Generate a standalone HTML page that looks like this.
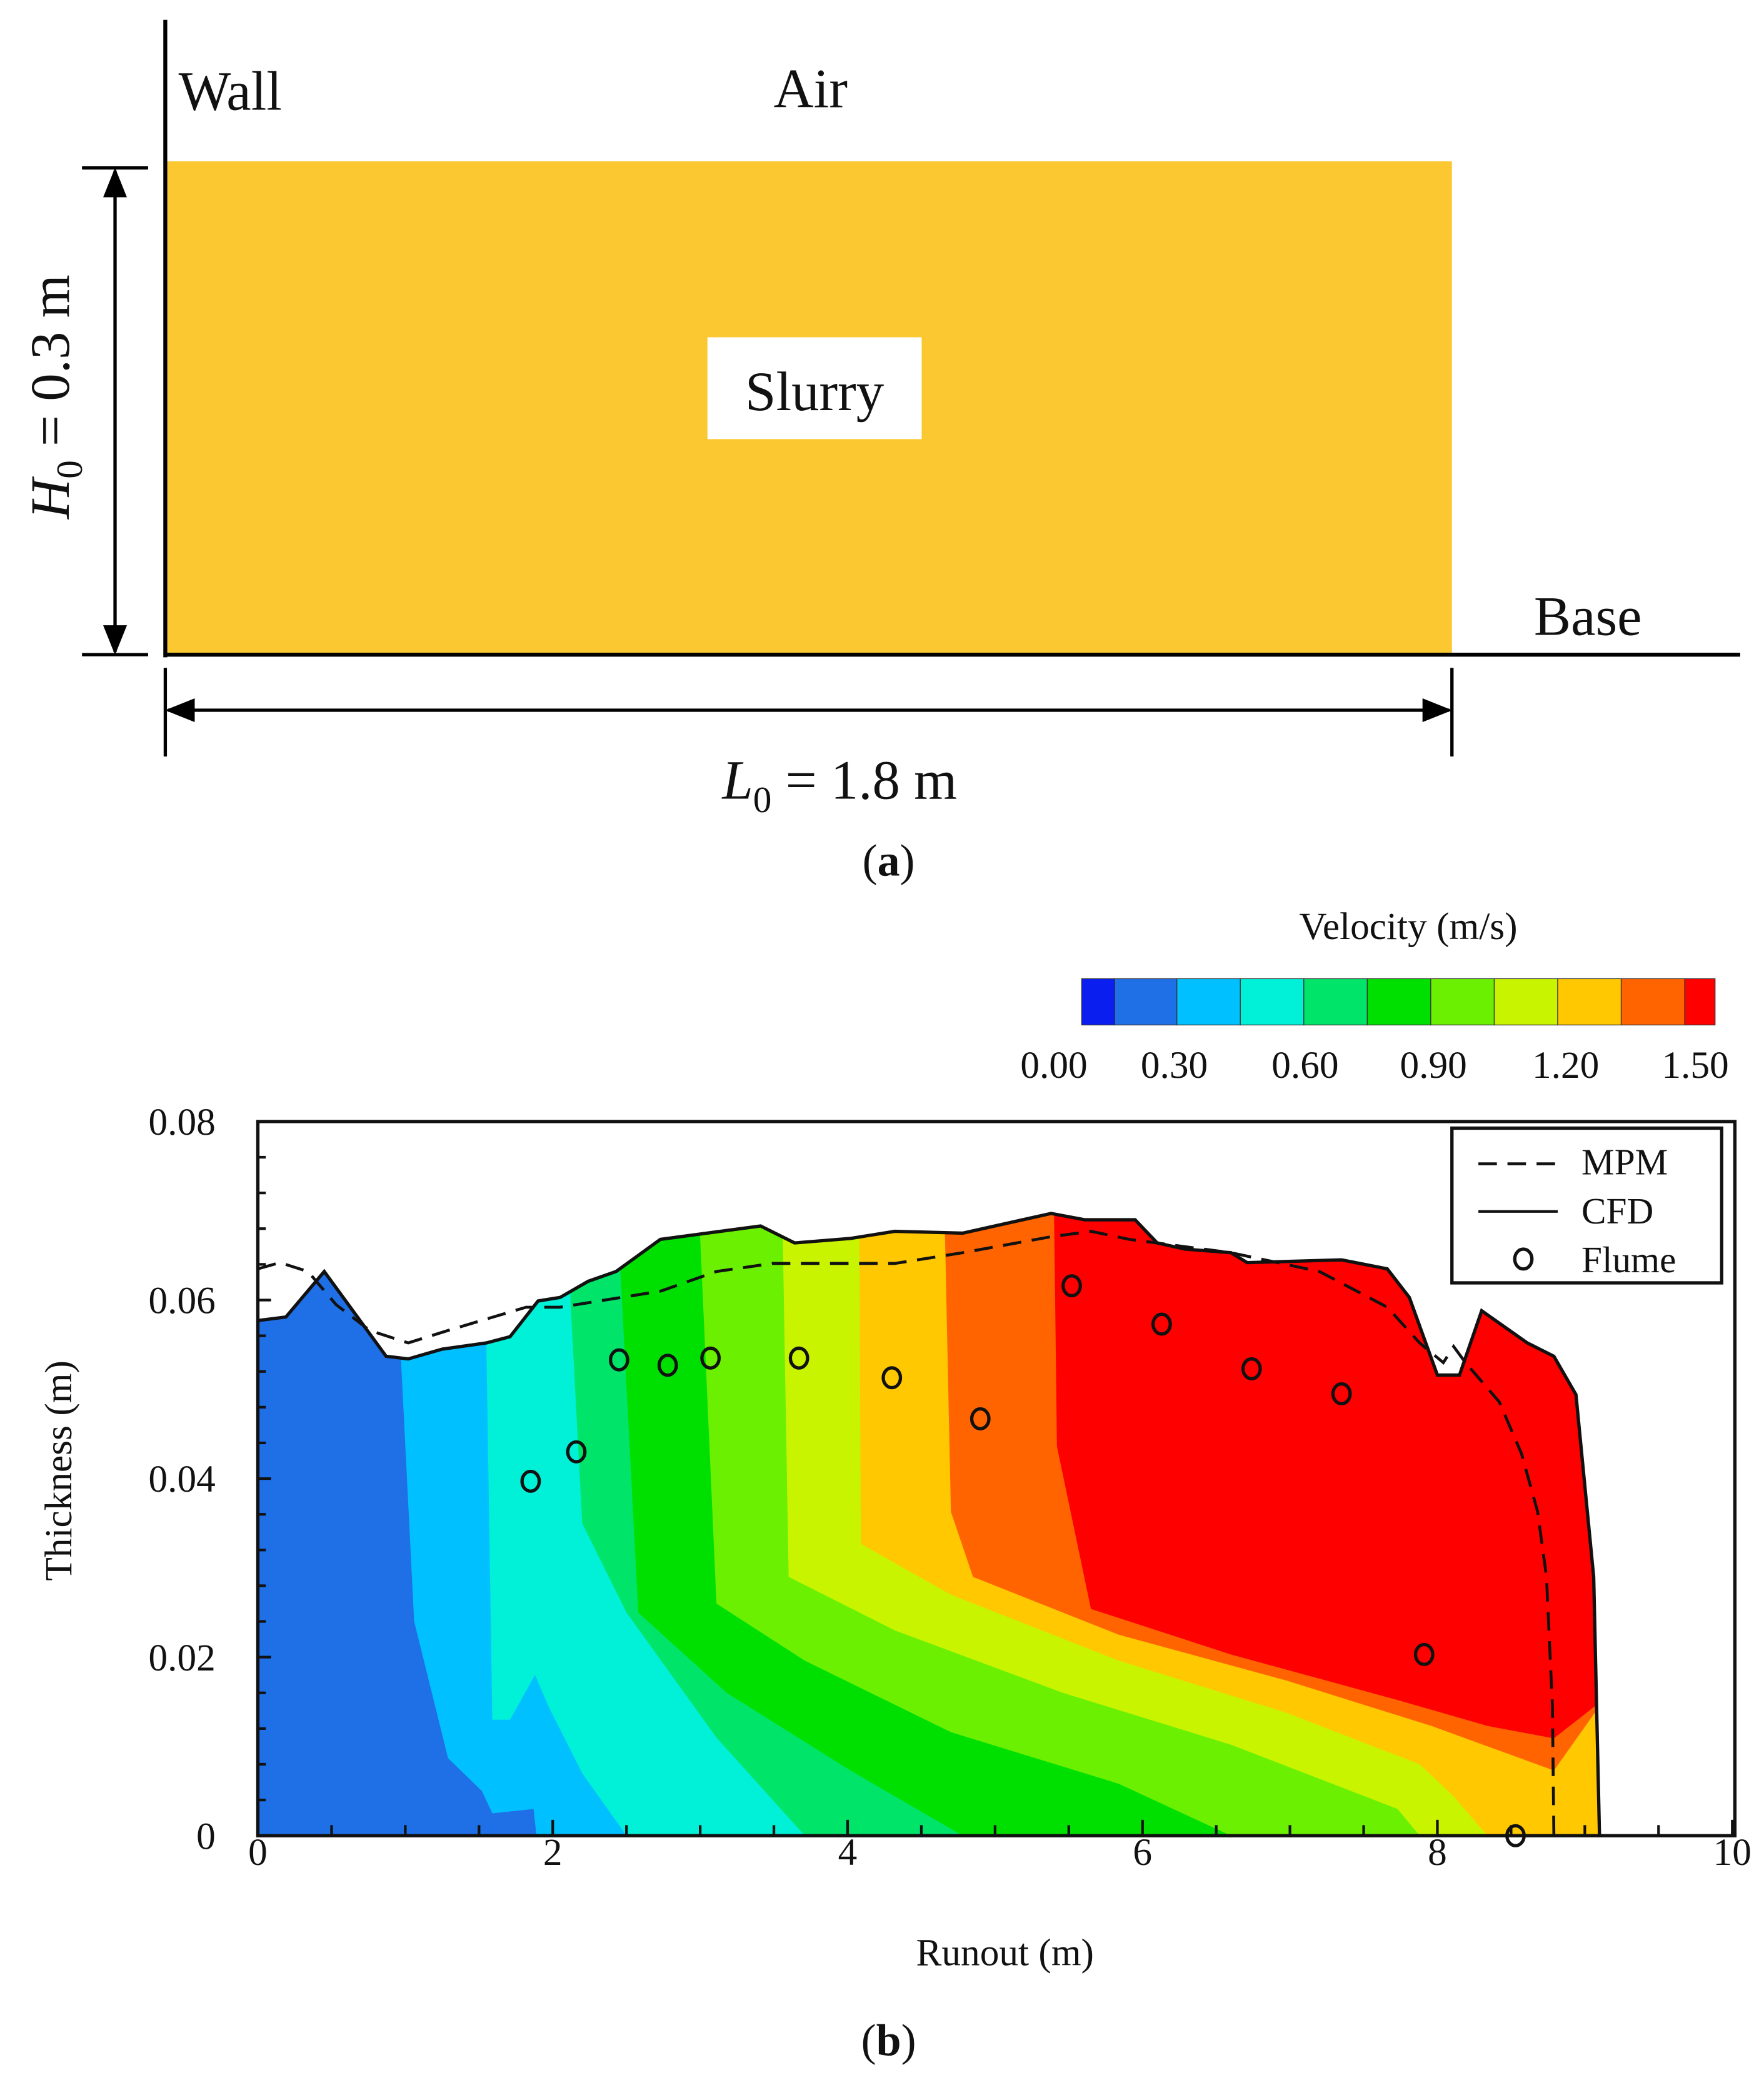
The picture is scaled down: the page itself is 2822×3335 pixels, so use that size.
<!DOCTYPE html>
<html><head><meta charset="utf-8"><style>
html,body{margin:0;padding:0;background:#fff}
svg{display:block}
text{font-family:"Liberation Serif",serif;fill:#111}
</style></head><body>
<svg id="fig" width="2822" height="3335" viewBox="0 0 1334 1576.5" preserveAspectRatio="none" xmlns="http://www.w3.org/2000/svg">
<defs>
<marker id="ah" viewBox="0 0 10 10" refX="9" refY="5" markerWidth="9" markerHeight="9" orient="auto-start-reverse"><path d="M0,1 L10,5 L0,9 z" fill="#000"/></marker>
</defs>
<g>
<rect x="125" y="122" width="973" height="373" fill="#FBC832"/>
<line x1="125" y1="15" x2="125" y2="497" stroke="#000" stroke-width="3"/>
<line x1="125" y1="495" x2="1316" y2="495" stroke="#000" stroke-width="3"/>
<text x="135" y="83" font-size="42">Wall</text>
<text x="585" y="81" font-size="42">Air</text>
<text x="1160" y="480" font-size="42">Base</text>
<rect x="535" y="255" width="162" height="77" fill="#fff"/>
<text x="616" y="310" font-size="42" text-anchor="middle">Slurry</text>
<line x1="62" y1="127" x2="112" y2="127" stroke="#000" stroke-width="2.5"/>
<line x1="62" y1="495" x2="112" y2="495" stroke="#000" stroke-width="2.5"/>
<line x1="87" y1="129" x2="87" y2="493" stroke="#000" stroke-width="2.5" marker-start="url(#ah)" marker-end="url(#ah)"/>
<text transform="translate(52,300) rotate(-90)" font-size="42" text-anchor="middle"><tspan font-style="italic">H</tspan><tspan font-size="28" dy="10">0</tspan><tspan dy="-10"> = 0.3 m</tspan></text>
<line x1="125" y1="505" x2="125" y2="572" stroke="#000" stroke-width="2.5"/>
<line x1="1098" y1="505" x2="1098" y2="572" stroke="#000" stroke-width="2.5"/>
<line x1="127" y1="537" x2="1096" y2="537" stroke="#000" stroke-width="2.5" marker-start="url(#ah)" marker-end="url(#ah)"/>
<text x="635" y="604" font-size="42" text-anchor="middle"><tspan font-style="italic">L</tspan><tspan font-size="28" dy="10">0</tspan><tspan dy="-10"> = 1.8 m</tspan></text>
<text x="672" y="662" font-size="34" text-anchor="middle">(<tspan font-weight="bold">a</tspan>)</text>
</g>
<g id="panelb"></g>
<text x="672" y="1554" font-size="34" text-anchor="middle">(<tspan font-weight="bold">b</tspan>)</text>
</svg>
<script>
const NS="http://www.w3.org/2000/svg";
// ---- data ----
const xTicks=[0,2,4,6,8,10];
const yTicks=[0,0.02,0.04,0.06,0.08];
const yTickLabels=["0","0.02","0.04","0.06","0.08"];
const cbLabels=["0.00","0.30","0.60","0.90","1.20","1.50"];
const cbColors=["#0a1ef0","#1f6fe6","#00c0ff","#00f0d8","#00e46a","#00e000","#6af000","#c8f400","#ffc800","#ff6400","#ff0000"];
const surfX=[0,0.19,0.45,0.87,1.02,1.25,1.55,1.71,1.9,2.05,2.24,2.43,2.73,3.41,3.64,4.02,4.32,4.78,5.38,5.61,5.95,6.1,6.29,6.6,6.71,7.35,7.66,7.81,8.0,8.15,8.3,8.61,8.79,8.94,9.06,9.1];
const surfY=[0.0577,0.0581,0.0632,0.0537,0.0534,0.0545,0.0552,0.0559,0.0599,0.0603,0.0621,0.0632,0.0668,0.0683,0.0664,0.0669,0.0677,0.0675,0.0697,0.069,0.069,0.0664,0.0657,0.0653,0.0642,0.0645,0.0635,0.0603,0.0516,0.0516,0.0588,0.0552,0.0537,0.0494,0.029,0];
const mpmX=[0,0.15,0.34,0.53,0.76,1.02,1.29,1.82,2.05,2.73,3.11,3.49,4.32,4.78,5.38,5.65,5.91,6.6,7.2,7.66,7.88,8.04,8.11,8.19,8.42,8.57,8.68,8.74,8.78,8.79];
const mpmY=[0.0635,0.0642,0.0632,0.0595,0.0566,0.0552,0.0566,0.0592,0.0592,0.061,0.0632,0.0641,0.0641,0.0653,0.0671,0.0677,0.0668,0.0653,0.0632,0.0592,0.0552,0.053,0.0548,0.053,0.0486,0.0428,0.0363,0.029,0.0145,0];
const flumeX=[1.85,2.16,2.45,2.78,3.07,3.67,4.30,4.9,5.52,6.13,6.74,7.35,7.91,8.53];
const flumeY=[0.0397,0.043,0.0533,0.0527,0.0535,0.0535,0.0513,0.0467,0.0616,0.0573,0.0523,0.0495,0.0203,0];
// contour band boundaries (left edge of each band, top to bottom)
const bX=[
[0.97,1.06,1.29,1.52,1.59,1.87,1.89],
[1.55,1.59,1.71,1.88,1.97,2.2,2.5],
[2.12,2.2,2.5,3.11,3.71],
[2.46,2.58,3.18,4.02,4.78],
[3.0,3.11,3.71,4.7,5.84,6.6],
[3.56,3.6,4.32,5.46,6.6,7.73,7.88],
[4.08,4.09,4.7,5.84,6.97,7.88,8.11,8.34],
[4.66,4.7,4.85,5.84,6.97,7.96,8.79,9.1],
[5.4,5.42,5.65,6.6,7.73,8.34,8.79,9.1]];
const bY=[
[0.0534,0.024,0.0087,0.005,0.0025,0.003,0],
[0.055,0.013,0.013,0.018,0.0145,0.007,0],
[0.06,0.035,0.025,0.011,0],
[0.063,0.025,0.016,0.0073,0],
[0.067,0.026,0.0196,0.0116,0.0058,0],
[0.0675,0.029,0.023,0.016,0.0102,0.003,0],
[0.067,0.0327,0.027,0.0196,0.0138,0.008,0.0044,0],
[0.0675,0.0363,0.029,0.0225,0.0174,0.0123,0.0073,0.0145],
[0.07,0.0436,0.0254,0.0203,0.0152,0.0123,0.0109,0.0149]];
// ---- axes ----
const X0=195,X1=1310,Y0=1388,Y1=848;
const sx=v=>X0+(v-0)/(10-0)*(X1-X0);
const sy=v=>Y0-(v-0)/(0.08-0)*(Y0-Y1);
const g=document.getElementById('panelb');
function mk(tag,attrs,parent){const e=document.createElementNS(NS,tag);for(const k in attrs)e.setAttribute(k,attrs[k]);(parent||g).appendChild(e);return e;}
function pts(xs,ys){return xs.map((x,i)=>sx(x).toFixed(1)+','+sy(ys[i]).toFixed(1)).join(' ');}
const defs=document.querySelector('defs');
const cp=mk('clipPath',{id:'surfclip'},defs);
mk('polygon',{points:pts(surfX.concat([0]),surfY.concat([0]))},cp);
const bands=mk('g',{'clip-path':'url(#surfclip)'});


const base=mk('polygon',{points:pts(surfX.concat([0]),surfY.concat([0])),fill:cbColors[1]},bands);


for(let k=0;k<bX.length;k++){
  const xs=bX[k].slice(),ys=bY[k].slice();
  const ly=ys[ys.length-1];
  xs.push(10,10,xs[0]);ys.push(ly,0.09,0.09);
  const p=mk('polygon',{points:pts(xs,ys),fill:cbColors[k+2]},bands);
  
  
}
const cfd=mk('polyline',{points:pts(surfX,surfY),fill:'none',stroke:'#111','stroke-width':2.5});


const mpm=mk('polyline',{points:pts(mpmX,mpmY),fill:'none',stroke:'#111','stroke-width':2.2,'stroke-dasharray':'14,8'});


flumeX.forEach((x,i)=>{
  const c=mk('ellipse',{cx:sx(x),cy:sy(flumeY[i]),rx:6.5,ry:7.5,fill:'none',stroke:'#111','stroke-width':2.5});
  
  
});
const fr=mk('rect',{x:X0,y:Y1,width:1312-X0,height:Y0-Y1,fill:'none',stroke:'#111','stroke-width':2.5});


for(let v=0;v<=10.001;v+=0.5){
  const t=mk('line',{x1:sx(v),x2:sx(v),y1:Y0,y2:Y0-(Math.abs(v-Math.round(v/2)*2)<0.01?12:8),stroke:'#111','stroke-width':2});
  
  
}
for(let v=0;v<=0.0801;v+=0.004){
  const t=mk('line',{x1:X0,x2:X0+(Math.abs(v*50-Math.round(v*50))<0.01?10:6),y1:sy(v),y2:sy(v),stroke:'#111','stroke-width':2});
  
  
}
xTicks.forEach(v=>{const t=mk('text',{x:sx(v),y:1410,'font-size':29,'text-anchor':'middle'});t.textContent=String(v);

});
yTicks.forEach((v,i)=>{const t=mk('text',{x:163,y:sy(v)+10,'font-size':29,'text-anchor':'end'});t.textContent=yTickLabels[i];

});
const xl=mk('text',{x:760,y:1486,'font-size':29,'text-anchor':'middle'});xl.textContent='Runout (m)';


const yl=mk('text',{transform:'translate(54,1112) rotate(-90)','font-size':29,'text-anchor':'middle'});yl.textContent='Thickness (m)';


const lg=mk('g',{});


mk('rect',{x:1098,y:853,width:204,height:117,fill:'#fff',stroke:'#111','stroke-width':2.5},lg);
const le1=mk('line',{x1:1118,x2:1178,y1:880,y2:880,stroke:'#111','stroke-width':2.2,'stroke-dasharray':'14,8'},lg);


mk('line',{x1:1118,x2:1178,y1:916,y2:916,stroke:'#111','stroke-width':2},lg);
mk('ellipse',{cx:1152,cy:952,rx:6.5,ry:7.5,fill:'none',stroke:'#111','stroke-width':2.5},lg);
[['MPM',888],['CFD',925],['Flume',962]].forEach(a=>{const t=mk('text',{x:1196,y:a[1],'font-size':28},lg);t.textContent=a[0];

});
const cbE=[818,843,890,938,986,1034,1082,1130,1178,1226,1274,1297];
cbColors.forEach((c,i)=>{const r=mk('rect',{x:cbE[i],y:740,width:cbE[i+1]-cbE[i],height:35,fill:c,stroke:'#333','stroke-width':0.6});

});
const cbx=[797,888,987,1084,1184,1282];
cbLabels.forEach((s,i)=>{const t=mk('text',{x:cbx[i],y:815,'font-size':29,'text-anchor':'middle'});t.textContent=s;

});
const ct=mk('text',{x:1065,y:710,'font-size':29,'text-anchor':'middle'});ct.textContent='Velocity (m/s)';


</script>
</body></html>
